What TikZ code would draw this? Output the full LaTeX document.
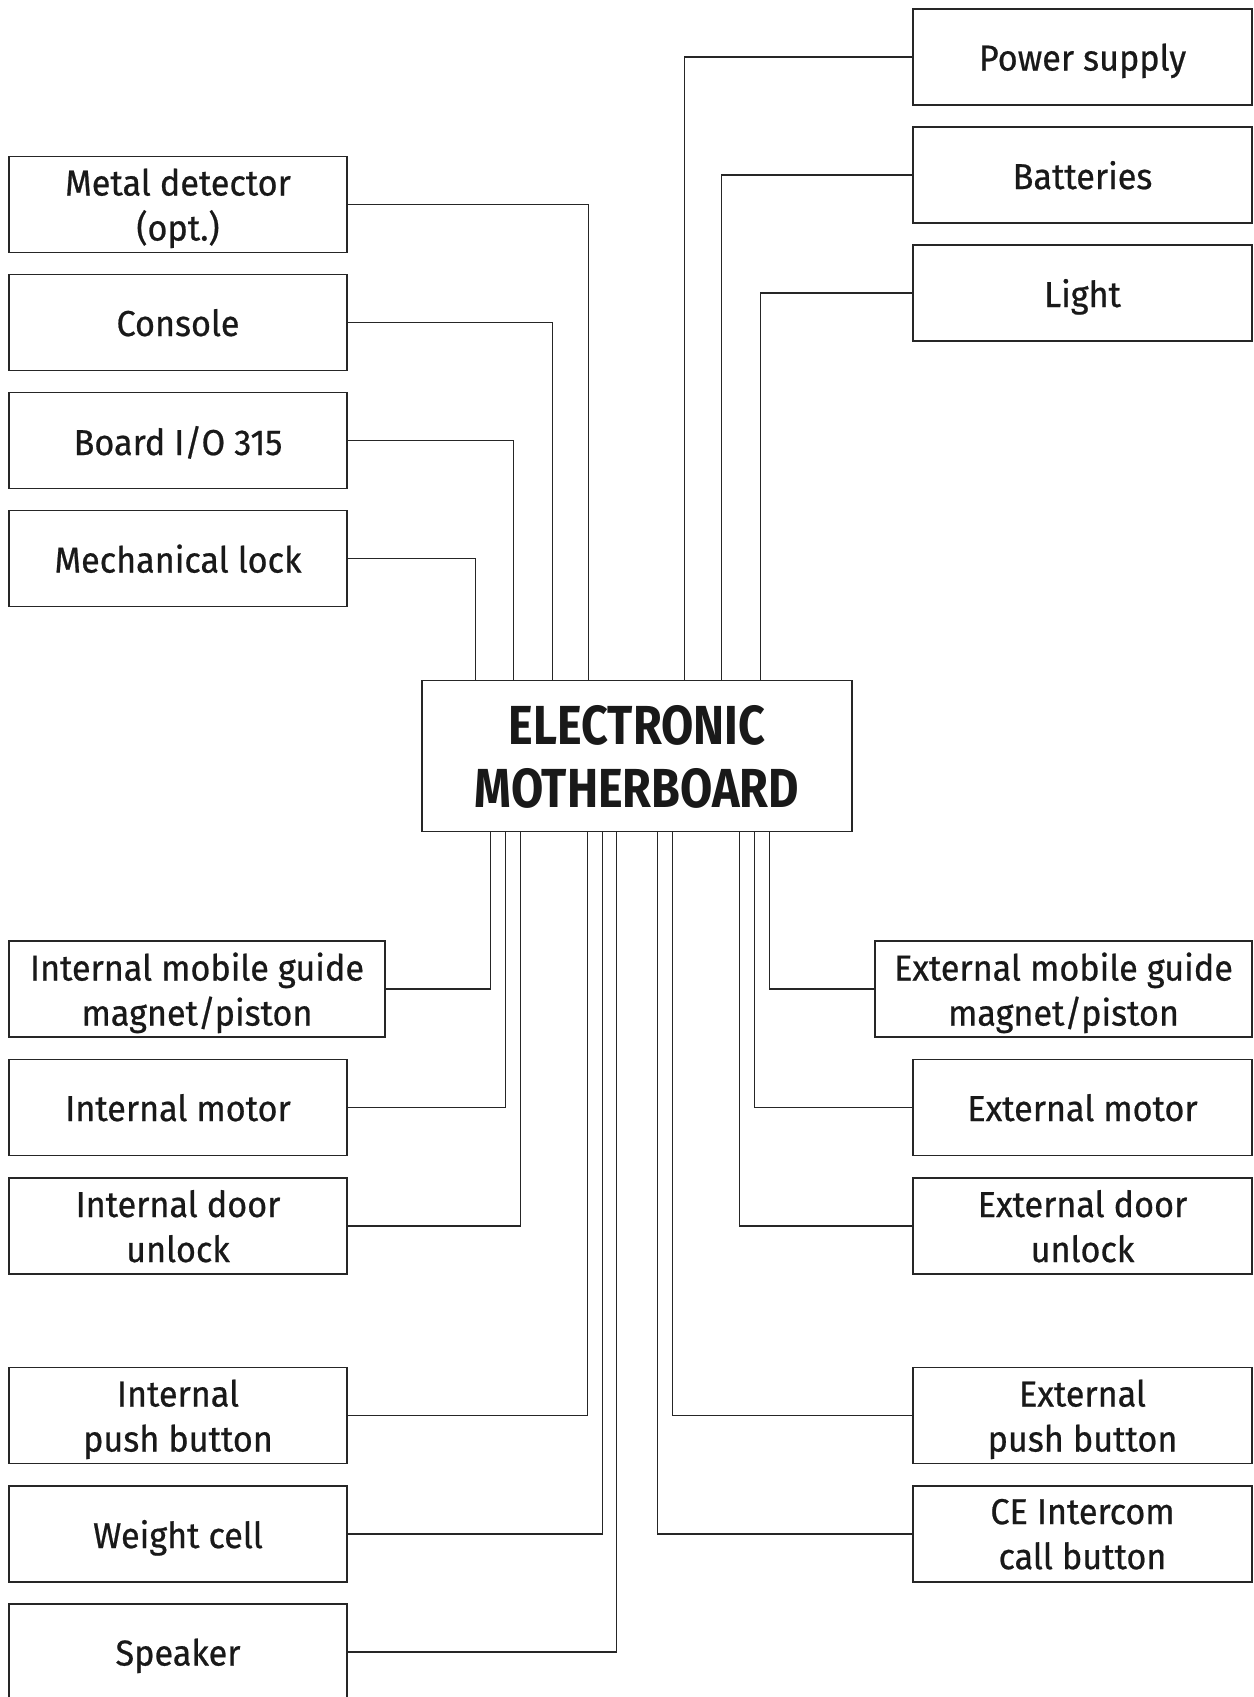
\documentclass[tikz,border=0pt]{standalone}
\usepackage{fontspec}
\setmainfont{Fira Sans}[FakeStretch=0.95,FakeBold=0.6]
\newfontfamily\mbfont{Fira Sans}[FakeStretch=0.85]
\begin{document}
\begin{tikzpicture}[x=1pt,y=-1pt,
  box/.style={draw=black!85,line width=1.4pt,fill=white,inner sep=0pt,align=center,
    text=black!90,font=\fontsize{36}{45}\selectfont,minimum height=96pt,text depth=0pt},
  lbox/.style={box,minimum width=338pt},
  wbox/.style={box,minimum width=376pt},
  rbox/.style={box,minimum width=339pt},
  conn/.style={draw=black!85,line width=1.3pt}]
\useasboundingbox (0,0) rectangle (1253,1697);
\fill[white] (0,0) rectangle (1253,1697);
% motherboard
\node[draw=black!85,line width=1.4pt,minimum width=430pt,minimum height=151pt,inner sep=0pt,
  align=center,text=black!90,text depth=0pt,font=\mbfont\bfseries\fontsize{55}{63}\selectfont] (mb) at (637,756)
  {ELECTRONIC\\MOTHERBOARD};
% top left
\node[lbox] (md) at (178,204.5) {Metal detector\\(opt.)};
\node[lbox] (con) at (178,322.5) {Console};
\node[lbox] (bio) at (178,440.5) {Board I/O 315};
\node[lbox] (ml) at (178,558.5) {Mechanical lock};
% top right
\node[rbox] (ps) at (1082.5,57) {Power supply};
\node[rbox] (bat) at (1082.5,175) {Batteries};
\node[rbox] (li) at (1082.5,293) {Light};
% bottom left
\node[wbox] (img) at (197,989) {Internal mobile guide\\magnet/piston};
\node[lbox] (imo) at (178,1107.5) {Internal motor};
\node[lbox] (idu) at (178,1226) {Internal door\\unlock};
\node[lbox] (ipb) at (178,1415.5) {Internal\\push button};
\node[lbox] (wc) at (178,1534) {Weight cell};
\node[lbox] (sp) at (178,1652) {Speaker};
% bottom right
\node[box,minimum width=377pt] (emg) at (1063.5,989) {External mobile guide\\magnet/piston};
\node[rbox] (emo) at (1082.5,1107.5) {External motor};
\node[rbox] (edu) at (1082.5,1226) {External door\\unlock};
\node[rbox] (epb) at (1082.5,1415.5) {External\\push button};
\node[rbox] (ce) at (1082.5,1534) {CE Intercom\\call button};
% connectors top
\draw[conn] (md.east) -| ([xshift=167pt]mb.north west);
\draw[conn] (con.east) -| ([xshift=131pt]mb.north west);
\draw[conn] (bio.east) -| ([xshift=92pt]mb.north west);
\draw[conn] (ml.east) -| ([xshift=54pt]mb.north west);
\draw[conn] (ps.west) -| ([xshift=263pt]mb.north west);
\draw[conn] (bat.west) -| ([xshift=300pt]mb.north west);
\draw[conn] (li.west) -| ([xshift=339pt]mb.north west);
% connectors bottom
\draw[conn] (img.east) -| ([xshift=69pt]mb.south west);
\draw[conn] (imo.east) -| ([xshift=84pt]mb.south west);
\draw[conn] (idu.east) -| ([xshift=99pt]mb.south west);
\draw[conn] (ipb.east) -| ([xshift=166pt]mb.south west);
\draw[conn] (wc.east) -| ([xshift=181pt]mb.south west);
\draw[conn] (sp.east) -| ([xshift=195pt]mb.south west);
\draw[conn] (emg.west) -| ([xshift=348pt]mb.south west);
\draw[conn] (emo.west) -| ([xshift=333pt]mb.south west);
\draw[conn] (edu.west) -| ([xshift=318pt]mb.south west);
\draw[conn] (epb.west) -| ([xshift=251pt]mb.south west);
\draw[conn] (ce.west) -| ([xshift=236pt]mb.south west);
\end{tikzpicture}
\end{document}
